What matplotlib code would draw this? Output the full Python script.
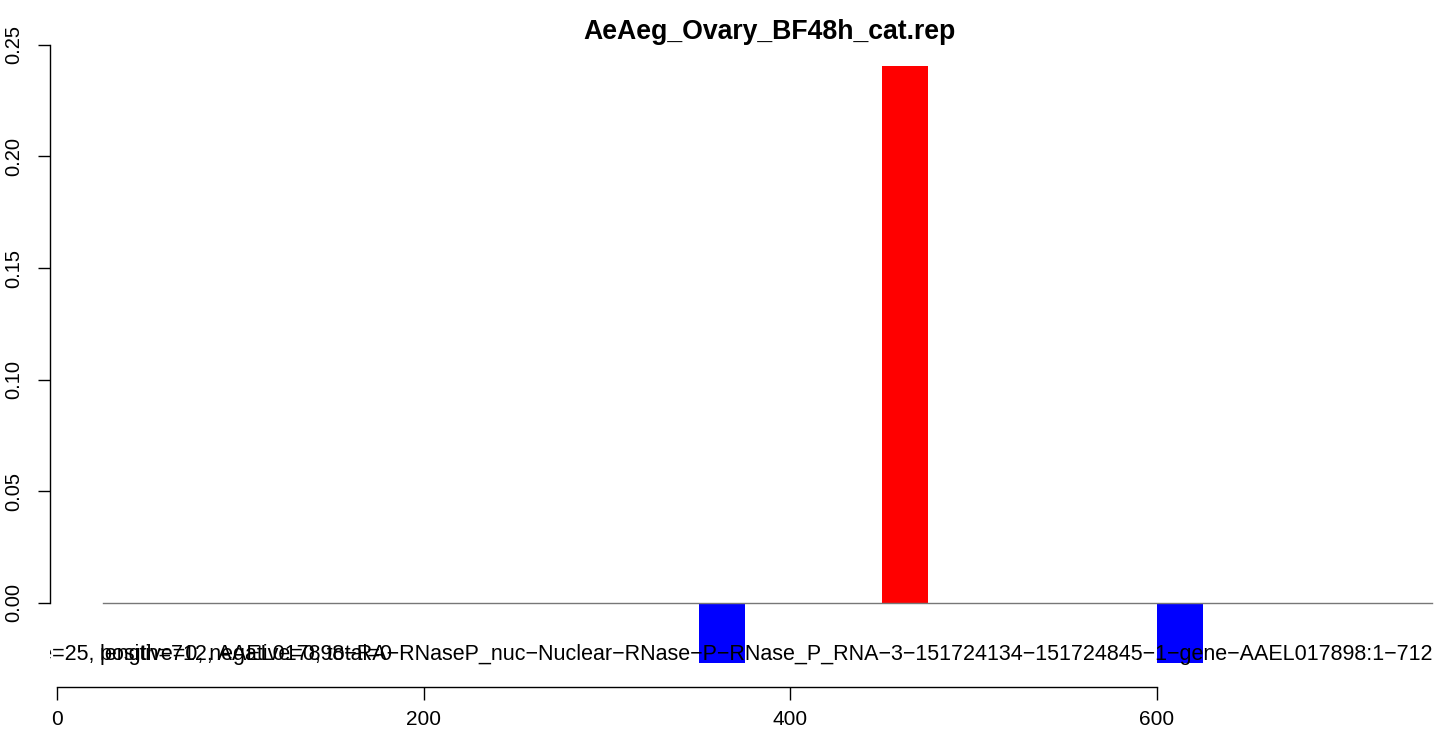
import matplotlib
matplotlib.use("Agg")
import matplotlib.pyplot as plt

plt.rcParams['font.family'] = ['Liberation Sans', 'DejaVu Sans']

title = "AeAeg_Ovary_BF48h_cat.rep"
bar_starts = [350, 450, 600]
bar_values = [-0.027, 0.2406, -0.027]
bar_colors = ["#0000FF", "#FF0000", "#0000FF"]
bin_width = 25
region = [25, 750]
y_ticks = [0.00, 0.05, 0.10, 0.15, 0.20, 0.25]
y_tick_labels = ["0.00", "0.05", "0.10", "0.15", "0.20", "0.25"]
x_ticks = [0, 200, 400, 600]
x_tick_labels = ["0", "200", "400", "600"]
label_prefix = "size=25, "
label_counts = "positive=0, negative=0, total=0"
label_gene = "length=712, AAEL017898-RA-RNaseP_nuc-Nuclear-RNase-P-RNase_P_RNA-3-151724134-151724845-1-gene-AAEL017898:1-712"

def rminus(s):
    return s.replace("-", "\u2212")

W, H = 1439, 735
fig = plt.figure(figsize=(W / 100, H / 100), dpi=100)
left_px, right_px, top_px, bot_px = 50, 1485, 42, 687
ax = fig.add_axes([left_px / W, (H - bot_px) / H, (right_px - left_px) / W, (bot_px - top_px) / H])

span = region[1] - region[0]
ax.set_xlim(region[0] - 0.04 * span, region[1] + 0.04 * span)
ymin, ymax = min(bar_values), max(bar_values)
yr = ymax - ymin
ax.set_ylim(ymin - 0.04 * yr, ymax + 0.04 * yr)

ax.bar(bar_starts, bar_values, width=bin_width, align='edge', color=bar_colors, linewidth=0, zorder=2)
ax.plot(region, [0, 0], color="#777777", linewidth=1.0, zorder=3)

for s in ['top', 'right', 'bottom']:
    ax.spines[s].set_visible(False)
ax.spines['left'].set_bounds(y_ticks[0], y_ticks[-1])
ax.spines['left'].set_linewidth(1.0)
ax.set_yticks(y_ticks)
ax.set_yticklabels(y_tick_labels, rotation=90, va='center', fontsize=14.5)
ax.tick_params(axis='y', length=9, width=1.0, pad=10)
ax.set_xticks([])

sec = ax.secondary_xaxis('bottom')
sec.spines['bottom'].set_bounds(x_ticks[0], x_ticks[-1])
sec.spines['bottom'].set_linewidth(1.0)
sec.set_xticks(x_ticks)
sec.set_xticklabels(x_tick_labels, fontsize=15)
sec.tick_params(axis='x', length=9, width=1.0, pad=7.5)

ty = -0.0233
fs = 15.5
ax.text(region[0] - 1.5, ty, label_prefix, ha='right', va='center', fontsize=fs, clip_on=True)
ax.text(region[0] - 1.5, ty, label_counts, ha='left', va='center', fontsize=fs, clip_on=True)
ax.text(region[0] - 1.5, ty, rminus(label_gene), ha='left', va='center', fontsize=fs, clip_on=True)

fig.text(769 / W, 1 - 32 / H, title, ha='center', va='center', fontsize=19.2, fontweight='bold')

fig.savefig("out.png", dpi=100)
